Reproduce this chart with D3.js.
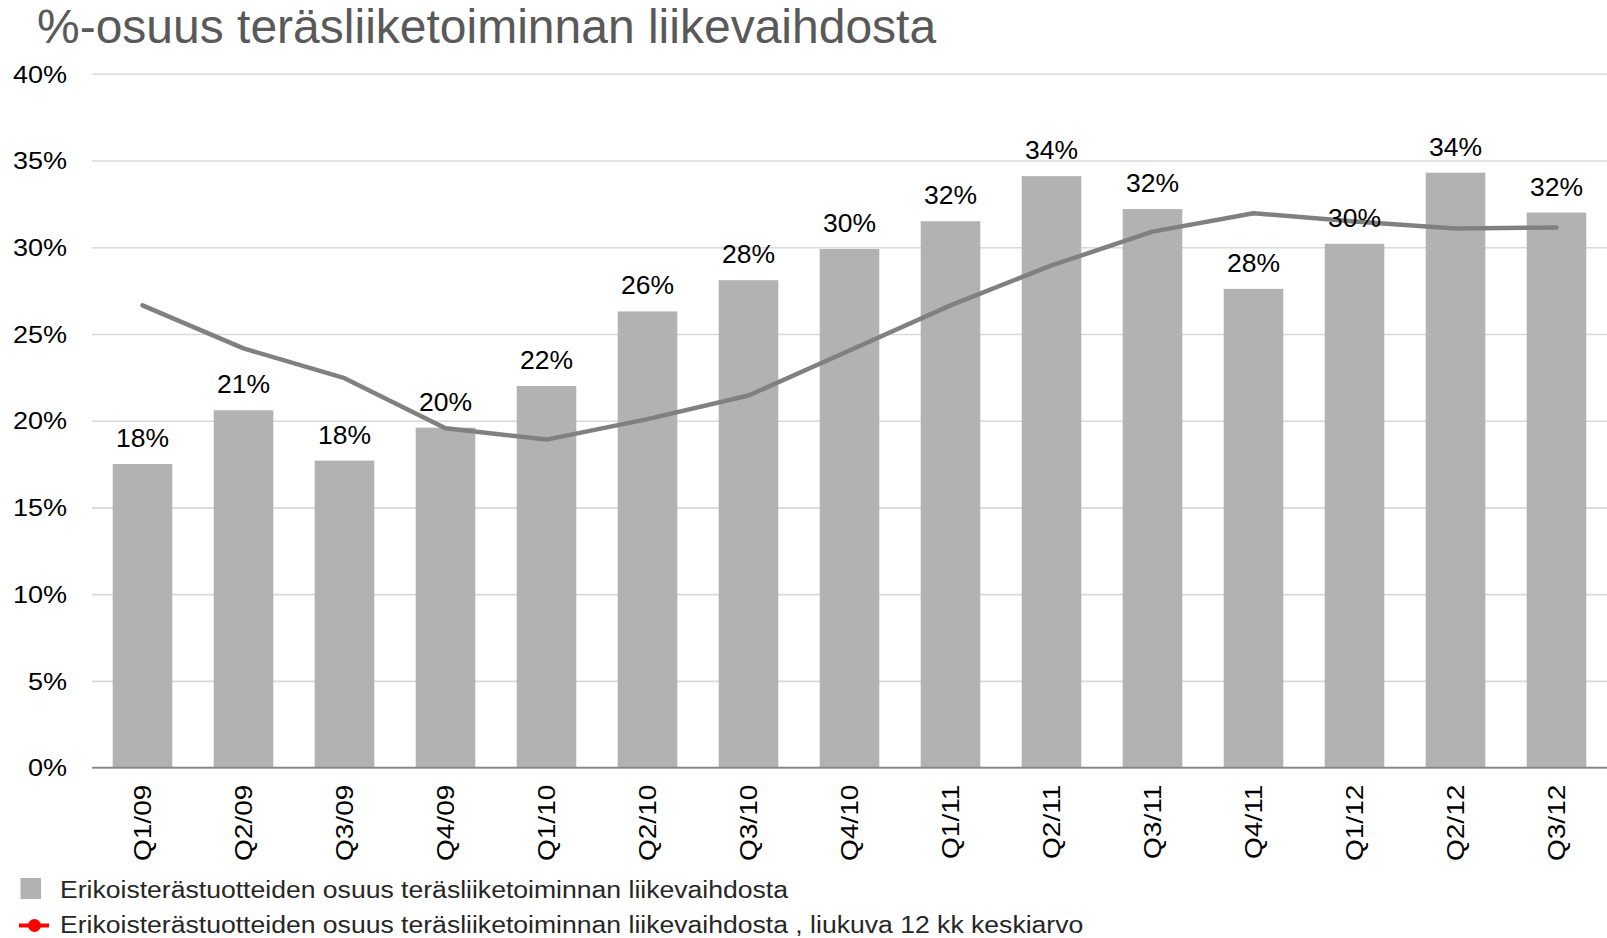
<!DOCTYPE html>
<html><head><meta charset="utf-8">
<script src="https://cdn.jsdelivr.net/npm/d3@7"></script>
<style>
html,body{margin:0;padding:0;background:#fff;}
svg{display:block;font-family:"Liberation Sans",Arial,sans-serif;}
</style></head>
<body><svg id="c" width="1607" height="938"></svg>
<script>
const categories = ["Q1/09","Q2/09","Q3/09","Q4/09","Q1/10","Q2/10","Q3/10","Q4/10","Q1/11","Q2/11","Q3/11","Q4/11","Q1/12","Q2/12","Q3/12"];
const barValues = [17.5,20.6,17.7,19.6,22.0,26.3,28.1,29.9,31.5,34.1,32.2,27.6,30.2,34.3,32.0];
const barLabels = ["18%","21%","18%","20%","22%","26%","28%","30%","32%","34%","32%","28%","30%","34%","32%"];
const lineValues = [26.65,24.17,22.45,19.56,18.91,20.09,21.45,24.05,26.65,28.95,30.9,31.96,31.49,31.08,31.14];
const yTicks = [0,5,10,15,20,25,30,35,40];
const titleText = "%-osuus teräsliiketoiminnan liikevaihdosta";
const legendLabels = ["Erikoisterästuotteiden osuus teräsliiketoiminnan liikevaihdosta",
  "Erikoisterästuotteiden osuus teräsliiketoiminnan liikevaihdosta , liukuva 12 kk keskiarvo"];

const svg = d3.select("#c");
const m = {left:92, right:1607, top:73.8, bottom:767.6};
const x = d3.scaleBand().domain(categories).range([m.left, m.right]).paddingInner(0.41).paddingOuter(0.205);
const y = d3.scaleLinear().domain([0,40]).range([m.bottom, m.top]);

function stretch(sel, k){
  sel.each(function(){
    const w = this.getComputedTextLength();
    d3.select(this).attr("textLength", w*k).attr("lengthAdjust","spacingAndGlyphs");
  });
}

svg.append("text").attr("x",37).attr("y",42.7).attr("font-size",48).attr("fill","#595959").text(titleText);

// gridlines + y ticks
const yAxis = d3.axisLeft(y).tickValues(yTicks).tickSize(-(m.right-m.left)).tickFormat(d=>d+"%").tickPadding(25);
const gy = svg.append("g").attr("transform",`translate(${m.left},0)`).call(yAxis);
gy.select(".domain").remove();
gy.selectAll(".tick line").attr("stroke","#d9d9d9").attr("stroke-width",1.6);
gy.selectAll(".tick text").attr("font-size",23.5).attr("fill","#000").attr("font-family","Liberation Sans, Arial, sans-serif").attr("dy","0.35em");
stretch(gy.selectAll(".tick text"), 1.15);

// bars
svg.append("g").selectAll("rect").data(categories).join("rect")
  .attr("x",d=>x(d)).attr("width",x.bandwidth())
  .attr("y",(d,i)=>y(barValues[i])).attr("height",(d,i)=>y(0)-y(barValues[i]))
  .attr("fill","#b2b2b2");

// x axis
const xAxis = d3.axisBottom(x).tickSize(0).tickPadding(0);
const gx = svg.append("g").attr("transform",`translate(0,${m.bottom})`).call(xAxis);
gx.select(".domain").attr("stroke","#868686").attr("stroke-width",1.6).attr("d",`M${m.left},0H${m.right}`);
gx.selectAll(".tick text").attr("font-size",24).attr("fill","#000").attr("font-family","Liberation Sans, Arial, sans-serif")
  .attr("text-anchor","end").attr("transform","rotate(-90)").attr("x",-17).attr("y",0).attr("dy","0.35em");
stretch(gx.selectAll(".tick text"), 1.17);

// line
const line = d3.line().x((d,i)=>x(categories[i])+x.bandwidth()/2).y(d=>y(d));
svg.append("path").datum(lineValues).attr("d",line).attr("fill","none").attr("stroke","#808080").attr("stroke-width",4.5).attr("stroke-linecap","round").attr("stroke-linejoin","round");

// labels
svg.append("g").selectAll("text").data(categories).join("text")
  .attr("x",d=>x(d)+x.bandwidth()/2).attr("y",(d,i)=>y(barValues[i])-17)
  .attr("text-anchor","middle").attr("font-size",26.5).attr("fill","#000").text((d,i)=>barLabels[i]);

// legend
const lg = svg.append("g");
lg.append("rect").attr("x",20.5).attr("y",878).attr("width",20.5).attr("height",21).attr("fill","#b2b2b2");
lg.append("line").attr("x1",19).attr("x2",49).attr("y1",925.5).attr("y2",925.5).attr("stroke","#ff0000").attr("stroke-width",4);
lg.append("circle").attr("cx",34.5).attr("cy",925.5).attr("r",6.5).attr("fill","#ff0000");
const lt = lg.selectAll("text.lg").data(legendLabels).join("text").attr("class","lg")
  .attr("x",60).attr("y",(d,i)=>i?925:889.5).attr("dy","0.35em").attr("font-size",23).attr("fill","#262626").text(d=>d);
stretch(lt, 1.155);
</script></body></html>
